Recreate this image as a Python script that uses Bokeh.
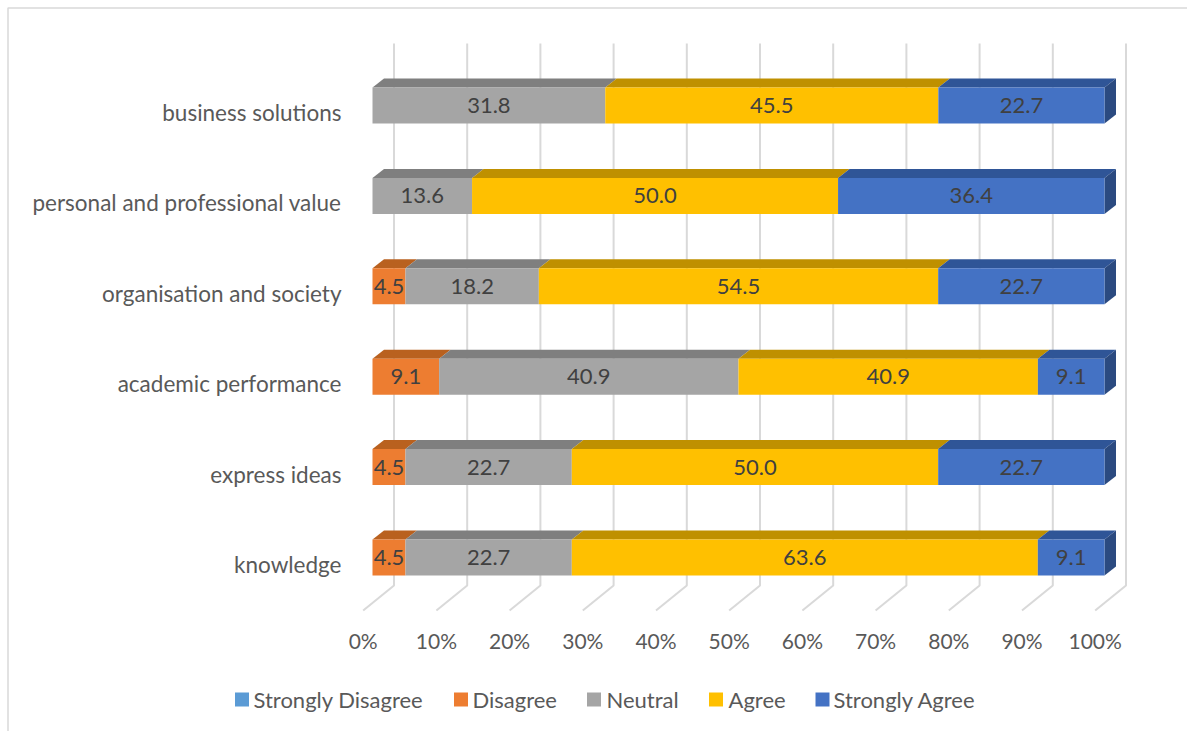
from bokeh.plotting import figure
from bokeh.models import Range1d
from bokeh.core.properties import value
from bokeh.embed import file_html
from bokeh.resources import INLINE

# ---------------- data ----------------
categories = ["business solutions", "personal and professional value",
              "organisation and society", "academic performance",
              "express ideas", "knowledge"]
series_names = ["Strongly Disagree", "Disagree", "Neutral", "Agree", "Strongly Agree"]
strongly_disagree = [0.0, 0.0, 0.0, 0.0, 0.0, 0.0]
disagree = [0.0, 0.0, 4.5, 9.1, 4.5, 4.5]
neutral = [31.8, 13.6, 18.2, 40.9, 22.7, 22.7]
agree = [45.5, 50.0, 54.5, 40.9, 50.0, 63.6]
strongly_agree = [22.7, 36.4, 22.7, 9.1, 22.7, 9.1]
tick_values = [0, 10, 20, 30, 40, 50, 60, 70, 80, 90, 100]
tick_labels = ["0%", "10%", "20%", "30%", "40%", "50%", "60%", "70%", "80%", "90%", "100%"]

# ---------------- styles ----------------
front_colors = ["#5B9BD5", "#ED7D31", "#A5A5A5", "#FFC000", "#4472C4"]
top_colors = ["#41719C", "#B9611F", "#7F7F7F", "#BF9000", "#2F5597"]
side_colors = ["#35608A", "#A0521A", "#6E6E6E", "#A67D00", "#2B4A80"]
FONT = value("Lato")

# ---------------- layout (pixels on the canvas) ----------------
W, H = 1187, 731
PX = 7.32          # px per percent
PY = 90.4          # px per category row
X0C = 372          # canvas x of 0 %
Y0C = 557          # canvas y of bottom row centre


def dx(px):
    return px / PX


def dy(px):
    return px / PY


def cy(canvas_y):
    return (Y0C - canvas_y) / PY


def cx(canvas_x):
    return (canvas_x - X0C) / PX


p = figure(width=W, height=H, output_backend="svg", toolbar_location=None,
           x_range=Range1d(-X0C / PX, (W - X0C) / PX),
           y_range=Range1d(-(H - Y0C) / PY, Y0C / PY),
           min_border=0, min_border_left=0, min_border_right=0,
           min_border_top=0, min_border_bottom=0)
p.axis.visible = False
p.grid.visible = False
p.outline_line_color = None
p.background_fill_color = "white"
p.border_fill_color = "white"

# chart border (top and left visible)
p.line(x=[cx(7.5), cx(7.5), cx(W)], y=[cy(H), cy(7.5), cy(7.5)],
       line_color="#D9D9D9", line_width=1.5)

# ---------------- 3D gridlines (back wall + floor) ----------------
gx, gy = [], []
for t in tick_values:
    gx.append([t + dx(21.5), t + dx(21.5), t - dx(9.3)])
    gy.append([cy(43), cy(585), cy(610)])
p.multi_line(xs=gx, ys=gy, line_color="#D9D9D9", line_width=2)

# ---------------- bars ----------------
n = len(categories)
rows = [n - 1 - i for i in range(n)]
series = [strongly_disagree, disagree, neutral, agree, strongly_agree]
HALF = dy(18)
DX = dx(11.5)
DY = dy(9)

lab_x, lab_y, lab_t = [], [], []
for i in range(n):
    total = sum(s[i] for s in series)
    left = 0.0
    r = rows[i]
    last_k = max(k for k in range(len(series)) if series[k][i] > 0)
    for k, s in enumerate(series):
        v = s[i]
        if v <= 0:
            continue
        w = v / total * 100.0
        right = left + w
        top = r + HALF
        bot = r - HALF
        # top face
        p.patch(x=[left, right, right + DX, left + DX], y=[top, top, top + DY, top + DY],
                fill_color=top_colors[k], line_color=None)
        # right side face for the last segment
        if k == last_k:
            p.patch(x=[right, right + DX, right + DX, right],
                    y=[bot, bot + DY, top + DY, top],
                    fill_color=side_colors[k], line_color=None)
        # front face
        p.quad(left=[left], right=[right], bottom=[bot], top=[top],
               fill_color=front_colors[k], line_color=None)
        lab_x.append((left + right) / 2)
        lab_y.append(r)
        lab_t.append(f"{v:.1f}")
        left = right

p.text(x=lab_x, y=lab_y, text=lab_t, text_font=FONT, text_font_size="22px",
       text_color="#404040", text_align="center", text_baseline="middle")

# ---------------- category labels ----------------
p.text(x=[cx(341)] * n, y=[r - dy(7) for r in rows], text=categories,
       text_font=FONT, text_font_size="22.5px", text_color="#595959",
       text_align="right", text_baseline="middle")

# ---------------- tick labels ----------------
p.text(x=[t - dx(9.3) for t in tick_values], y=[cy(640)] * len(tick_values),
       text=tick_labels, text_font=FONT, text_font_size="21px", text_color="#595959",
       text_align="center", text_baseline="middle")

# ---------------- legend ----------------
leg_sq_x = [241.5, 460.5, 593.5, 715.5, 822.0]
leg_tx_x = [253.0, 472.0, 606.0, 728.0, 833.0]
leg_y = 699
p.scatter(x=[cx(v) for v in leg_sq_x], y=[cy(leg_y)] * 5, marker="square",
          size=14, fill_color=front_colors, line_color=None)
p.text(x=[cx(v) for v in leg_tx_x], y=[cy(leg_y)] * 5, text=series_names,
       text_font=FONT, text_font_size="22px", text_color="#595959",
       text_align="left", text_baseline="middle")

open("out.html", "w").write(file_html(p, INLINE))
